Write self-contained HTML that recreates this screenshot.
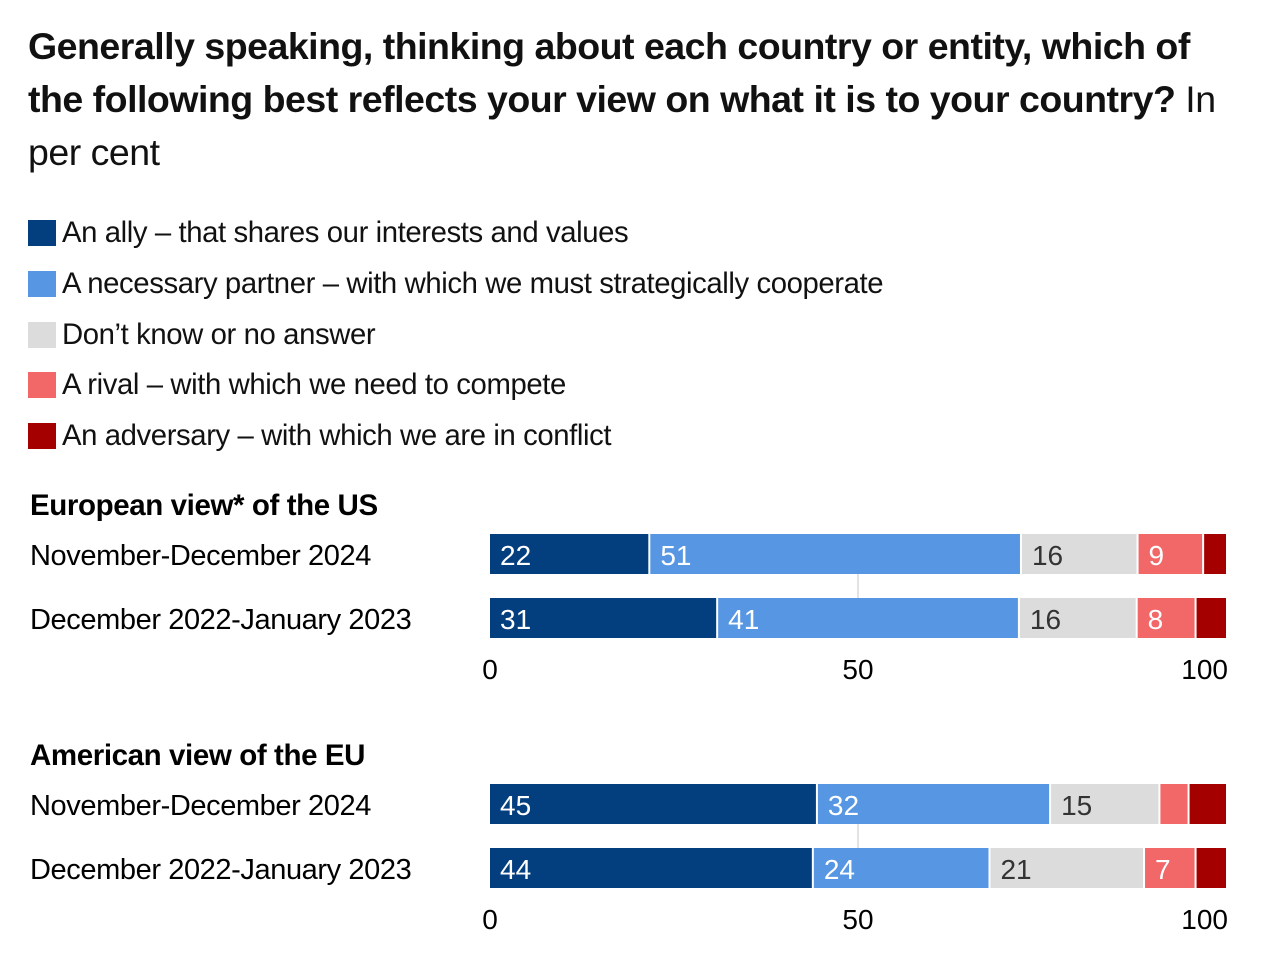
<!DOCTYPE html>
<html><head><meta charset="utf-8"><style>
body{margin:0;background:#fff;width:1268px;height:960px;overflow:hidden;font-family:"Liberation Sans",sans-serif;color:#111}
#title{position:absolute;left:28px;top:20px;width:1240px;font-size:37.5px;line-height:53px;letter-spacing:-0.5px;white-space:nowrap}
#title b{font-weight:bold}
.leg{position:absolute;left:28px;font-size:29.3px;letter-spacing:-0.4px;display:flex;align-items:center;white-space:nowrap}
.leg span.sw{width:28px;height:26px;margin-right:6px;display:inline-block}
</style></head><body>
<div id="title"><b>Generally speaking, thinking about each country or entity, which of</b><br><b>the following best reflects your view on what it is to your country?</b> In<br>per cent</div>
<div id="legend"></div>
<svg id="chart" width="1268" height="960" style="position:absolute;left:0;top:0"></svg>
<script>
const seriesNames=["An ally – that shares our interests and values","A necessary partner – with which we must strategically cooperate","Don’t know or no answer","A rival – with which we need to compete","An adversary – with which we are in conflict"];
const colors=["#033e7f","#5796e2","#dcdcdc","#f26767","#a50000"];
const groups=["European view* of the US","American view of the EU"];
const rowLabels=["November-December 2024","December 2022-January 2023"];
const usValues=[[22,51,16,9,3],[31,41,16,8,4]];
const euValues=[[45,32,15,4,5],[44,24,21,7,4]];
const showLabel=[[true,true,true,true,false],[true,true,true,true,false],[true,true,true,false,false],[true,true,true,true,false]];
const ticks=[0,50,100];
const legendTops=[216,267,318,368,419];
const leg=document.getElementById('legend');
seriesNames.forEach((n,i)=>{const d=document.createElement('div');d.className='leg';d.style.top=legendTops[i]+'px';


d.innerHTML='<span class="sw" style="background:'+colors[i]+'"></span>'+n;leg.appendChild(d);});
const svg=document.getElementById('chart');const NS='http://www.w3.org/2000/svg';
const x0=490,x1=1226;const xs=v=>x0+(x1-x0)*v/100;
function el(t,a,txt){const e=document.createElementNS(NS,t);for(const k in a)e.setAttribute(k,a[k]);if(txt!=null)e.textContent=txt;svg.appendChild(e);return e;}
const groupTops=[534,784];
[usValues,euValues].forEach((vals,g)=>{
 const top=groupTops[g];
 const h=el('text',{x:30,y:top-19,'font-size':29.5,'font-weight':'bold','letter-spacing':'-0.4'},groups[g]);
 
 
 const gl=el('line',{x1:xs(50),x2:xs(50),y1:top,y2:top+104,stroke:'#e3e3e3','stroke-width':2});
 
 
 vals.forEach((row,r)=>{
  const y=top+r*64;
  const lb=el('text',{x:30,y:y+31,'font-size':29,'letter-spacing':'-0.4'},rowLabels[r]);
  
  
  const tot=row.reduce((a,b)=>a+b,0);let acc=0;
  row.forEach((v,i)=>{
   const a=xs(acc/tot*100),b=xs((acc+v)/tot*100);acc+=v;
   const rc=el('rect',{x:a,y:y,width:Math.max(0,b-a-(i<4?2:0)),height:40,fill:colors[i]});
   
   
   if(showLabel[g*2+r][i]){
    const t=el('text',{x:a+10,y:y+31,'font-size':28,fill:i==2?'#333':'#fff'},v);
    
    
   }
  });
 });
 ticks.forEach(t=>{
  const tx=el('text',{x:xs(t),y:top+145,'font-size':28,'text-anchor':t==100?'end':'middle'},t);
  if(t==100)tx.setAttribute('x',xs(t)+2);
  
  
 });
});
</script>
</body></html>
